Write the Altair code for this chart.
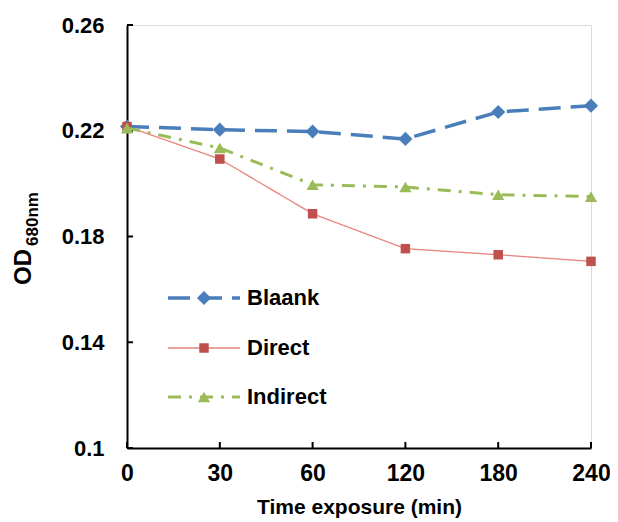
import altair as alt
import pandas as pd

x_labels = ["0", "30", "60", "120", "180", "240"]
series_names = ["Blaank", "Direct", "Indirect"]
blaank = [0.2216, 0.2204, 0.2197, 0.2169, 0.2271, 0.2295]
direct = [0.2216, 0.2093, 0.1886, 0.1754, 0.1731, 0.1706]
indirect = [0.2210, 0.2135, 0.1996, 0.1987, 0.1958, 0.1951]
y_ticks = [0.1, 0.14, 0.18, 0.22, 0.26]

line_colors = ["#4A7EBB", "#E8837F", "#9BBB59"]
marker_colors = ["#4A7EBB", "#C0504D", "#9BBB59"]
line_widths = [3.5, 1.3, 3.0]
dashes = [[22, 10], [1, 0], [13, 8, 3, 8]]
shapes = ["diamond", "square", "triangle-up"]
sizes = [200, 90, 150]

W, H = 464, 423
FONT = "Liberation Sans"

values = {"Blaank": blaank, "Direct": direct, "Indirect": indirect}
rows = []
for name in series_names:
    for t, v in zip(x_labels, values[name]):
        rows.append({"time": t, "od": v, "series": name})
df = pd.DataFrame(rows)

xscale = alt.Scale(domain=x_labels, type="point", padding=0)
yscale = alt.Scale(domain=[0.1, 0.26], nice=False, zero=False)

base = alt.Chart(df)

axes = base.mark_point(opacity=0).encode(
    x=alt.X("time:O", scale=xscale, sort=x_labels,
            axis=alt.Axis(title="Time exposure (min)", labelAngle=0, tickSize=0,
                          labelFont=FONT, labelFontSize=23, labelFontWeight="bold",
                          labelColor="black", labelPadding=14, labelFlush=False,
                          titleFont=FONT, titleFontSize=21, titleFontWeight="bold",
                          titleColor="black", titlePadding=11,
                          domainColor="black", domainWidth=2)),
    y=alt.Y("od:Q", scale=yscale,
            axis=alt.Axis(title=None, values=y_ticks, format=".2~f", tickSize=0,
                          grid=False, labelFont=FONT, labelFontSize=22,
                          labelFontWeight="bold", labelColor="black", labelPadding=23,
                          domainColor="black", domainWidth=2)),
)

tick_df_y = pd.DataFrame({"v": y_ticks})
yticks = alt.Chart(tick_df_y).mark_rule(color="black", strokeWidth=2).encode(
    y=alt.Y("v:Q", scale=yscale), x=alt.value(0), x2=alt.value(6))
tick_df_x = pd.DataFrame({"t": x_labels})
xticks = alt.Chart(tick_df_x).mark_rule(color="black", strokeWidth=2).encode(
    x=alt.X("t:O", scale=xscale, sort=x_labels), y=alt.value(H), y2=alt.value(H - 6))

layers = [axes, yticks, xticks]
for i, name in enumerate(series_names):
    sub = base.transform_filter(alt.datum.series == name)
    layers.append(sub.mark_line(color=line_colors[i], strokeWidth=line_widths[i],
                                strokeDash=dashes[i]).encode(
        x=alt.X("time:O", scale=xscale, sort=x_labels),
        y=alt.Y("od:Q", scale=yscale)))
    layers.append(sub.mark_point(shape=shapes[i], filled=True, opacity=1,
                                 color=marker_colors[i], size=sizes[i]).encode(
        x=alt.X("time:O", scale=xscale, sort=x_labels),
        y=alt.Y("od:Q", scale=yscale)))

# legend
leg_y = [273, 323, 372]
one = pd.DataFrame({"k": [0]})
for i, name in enumerate(series_names):
    lc = alt.Chart(one)
    layers.append(lc.mark_rule(color=line_colors[i], strokeWidth=line_widths[i],
                               strokeDash=dashes[i]).encode(
        x=alt.value(41), x2=alt.value(113), y=alt.value(leg_y[i])))
    layers.append(lc.mark_point(shape=shapes[i], filled=True, opacity=1,
                                color=marker_colors[i], size=sizes[i]).encode(
        x=alt.value(77), y=alt.value(leg_y[i])))
    layers.append(lc.mark_text(text=name, align="left", baseline="middle",
                               font=FONT, fontSize=22, fontWeight="bold",
                               color="black").encode(
        x=alt.value(120), y=alt.value(leg_y[i])))

# y title with subscript
lc = alt.Chart(one)
layers.append(lc.mark_text(text="OD", angle=270, align="center", baseline="middle",
                           font=FONT, fontSize=24, fontWeight="bold", color="black").encode(
    x=alt.value(-103), y=alt.value(242)))
layers.append(lc.mark_text(text="680nm", angle=270, align="center", baseline="middle",
                           font=FONT, fontSize=17, fontWeight="bold", color="black").encode(
    x=alt.value(-94), y=alt.value(194)))

chart = alt.layer(*layers).properties(
    width=W, height=H,
    autosize=alt.AutoSizeParams(type="none"),
    padding={"left": 119, "top": 17, "right": 19, "bottom": 74},
).configure_view(stroke=None).configure(background="white")

chart.save("out.html", embed_options={"renderer": "svg", "actions": False})
